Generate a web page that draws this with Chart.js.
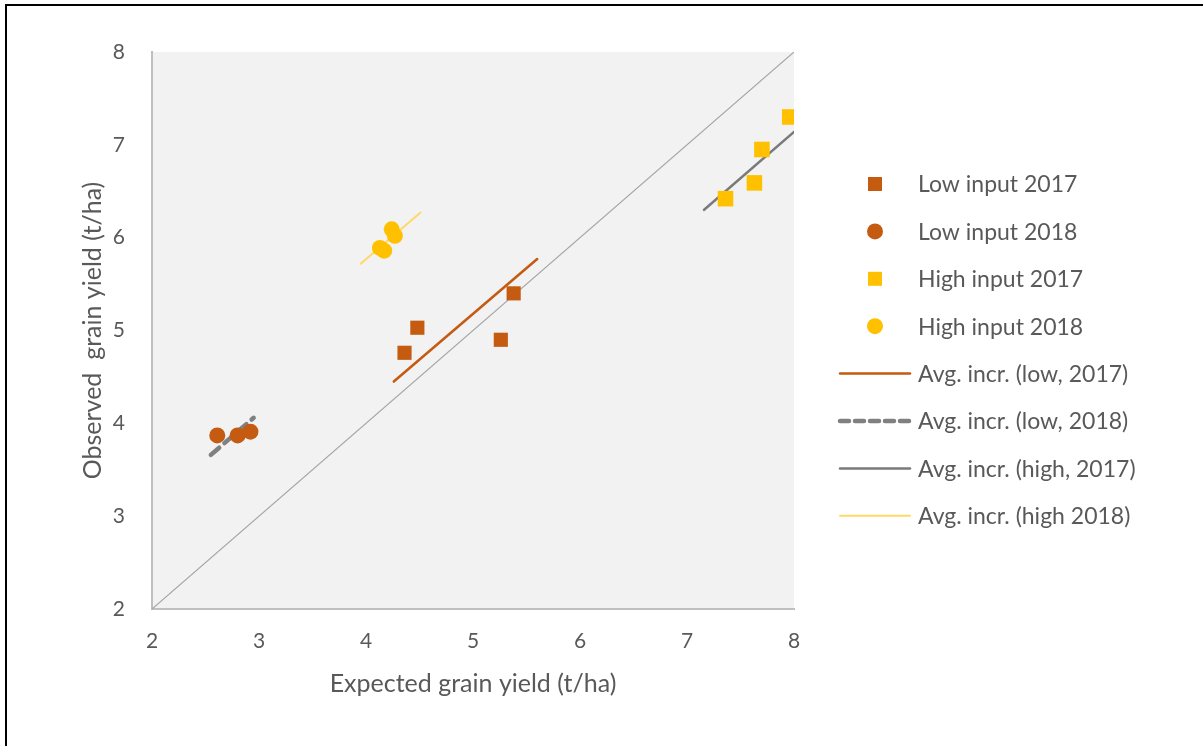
<!DOCTYPE html>
<html>
<head>
<meta charset="utf-8">
<script src="https://cdn.jsdelivr.net/npm/chart.js@4/dist/chart.umd.min.js"></script>
<style>
  html, body { margin: 0; padding: 0; background: #fff; }
  #wrap { position: relative; width: 1203px; height: 746px; }
  #frame { position: absolute; left: 5px; top: 4px; width: 1198px; height: 742px;
           border-left: 2px solid #000; border-top: 2px solid #000; box-sizing: border-box; pointer-events: none; }
</style>
</head>
<body>
<div id="wrap">
  <canvas id="yieldChart" width="1203" height="746"></canvas>
  <div id="frame"></div>
</div>
<script>
// valori (t/ha)
var lowExp2017 = [4.36, 4.48, 5.26, 5.38];
var lowObs2017 = [4.76, 5.03, 4.90, 5.40];
var lowExp2018 = [2.61, 2.80, 2.92];
var lowObs2018 = [3.87, 3.87, 3.91];
var highExp2017 = [7.36, 7.63, 7.70, 7.96];
var highObs2017 = [6.42, 6.59, 6.95, 7.30];
var highExp2018 = [4.24, 4.27, 4.13, 4.17];
var highObs2018 = [6.09, 6.02, 5.89, 5.86];

// linee di incremento medio: [x inizio, x fine], [y inizio, y fine]
var trendLow2017X = [4.26, 5.60], trendLow2017Y = [4.45, 5.77];
var trendLow2018X = [2.55, 2.95], trendLow2018Y = [3.66, 4.06];
var trendHigh2017X = [7.16, 8.00], trendHigh2017Y = [6.30, 7.14];
var trendHigh2018X = [3.95, 4.51], trendHigh2018Y = [5.72, 6.27];
var oneToOne = [2, 8];

var axisTicks = [2, 3, 4, 5, 6, 7, 8];

var ORANGE = "#c55a11";
var YELLOW = "#ffc000";
var FONT = "Lato, 'Open Sans', sans-serif";
var TEXT = "#595959";

function pts(xs, ys) {
    return xs.map(function (x, i) { return { x: x, y: ys[i] }; });
}

var datasets = [
    { label: "Low input 2017", data: pts(lowExp2017, lowObs2017), showLine: false,
      pointStyle: "rect", pointRadius: 10, backgroundColor: ORANGE, borderColor: ORANGE, borderWidth: 0 },
    { label: "Low input 2018", data: pts(lowExp2018, lowObs2018), showLine: false,
      pointStyle: "circle", pointRadius: 8, backgroundColor: ORANGE, borderColor: ORANGE, borderWidth: 0 },
    { label: "High input 2017", data: pts(highExp2017, highObs2017), showLine: false,
      pointStyle: "rect", pointRadius: 11, backgroundColor: YELLOW, borderColor: YELLOW, borderWidth: 0 },
    { label: "High input 2018", data: pts(highExp2018, highObs2018), showLine: false,
      pointStyle: "circle", pointRadius: 8, backgroundColor: YELLOW, borderColor: YELLOW, borderWidth: 0 },
    { label: "Avg. incr. (low, 2017)", data: pts(trendLow2017X, trendLow2017Y), showLine: true,
      pointRadius: 0, borderColor: ORANGE, borderWidth: 2.5, borderCapStyle: "round" },
    { label: "Avg. incr. (low, 2018)", data: pts(trendLow2018X, trendLow2018Y), showLine: true,
      pointRadius: 0, borderColor: "#808080", borderWidth: 4.5, borderDash: [11, 7], borderCapStyle: "round" },
    { label: "Avg. incr. (high, 2017)", data: pts(trendHigh2017X, trendHigh2017Y), showLine: true,
      pointRadius: 0, borderColor: "#7a7a7a", borderWidth: 2.5, borderCapStyle: "round" },
    { label: "Avg. incr. (high 2018)", data: pts(trendHigh2018X, trendHigh2018Y), showLine: true,
      pointRadius: 0, borderColor: "#ffd966", borderWidth: 2, borderCapStyle: "round" },
    { label: "1:1", data: pts(oneToOne, oneToOne), showLine: true, legendHidden: true,
      pointRadius: 0, borderColor: "#a6a6a6", borderWidth: 1.2 }
];

// sfondo grigio dell'area del grafico
var plotBg = {
    id: "plotBg",
    beforeDraw: function (chart) {
        var a = chart.chartArea, c = chart.ctx;
        c.save();
        c.fillStyle = "#f2f2f2";
        c.fillRect(a.left, a.top, a.right - a.left, a.bottom - a.top);
        c.restore();
    }
};

// titoli degli assi e legenda disegnati a mano per rispettare le posizioni
var customLegend = {
    id: "customLegend",
    afterDraw: function (chart) {
        var c = chart.ctx;
        var a = chart.chartArea;
        c.save();
        c.fillStyle = TEXT;
        c.textBaseline = "middle";
        c.textAlign = "center";
        c.font = "25px " + FONT;
        c.fillText("Expected grain yield (t/ha)", (a.left + a.right) / 2, 684);
        c.save();
        c.translate(93, (a.top + a.bottom) / 2);
        c.rotate(-Math.PI / 2);
        c.fillText("Observed  grain yield (t/ha)", 0, 0);
        c.restore();

        var y0 = 184, step = 47.4;
        c.font = "23px " + FONT;
        c.textAlign = "left";
        var row = 0;
        chart.data.datasets.forEach(function (ds) {
            if (ds.legendHidden) return;
            var y = y0 + row * step;
            if (ds.showLine) {
                c.save();
                c.strokeStyle = ds.borderColor;
                c.lineWidth = ds.borderWidth;
                c.lineCap = "round";
                if (ds.borderDash) c.setLineDash([9, 6]);
                c.beginPath();
                c.moveTo(840, y);
                c.lineTo(910, y);
                c.stroke();
                c.restore();
            } else {
                c.save();
                c.fillStyle = ds.backgroundColor;
                if (ds.pointStyle === "rect") {
                    c.fillRect(868, y - 7, 14, 14);
                } else {
                    c.beginPath();
                    c.arc(875, y, 8, 0, Math.PI * 2);
                    c.fill();
                }
                c.restore();
            }
            c.fillText(ds.label, 918, y + 1);
            row++;
        });
        c.restore();
    }
};

var chart = new Chart(document.getElementById("yieldChart"), {
    type: "scatter",
    data: { datasets: datasets },
    options: {
        responsive: false,
        animation: false,
        layout: { padding: { left: 0, top: 52, right: 409, bottom: 0 } },
        plugins: { legend: { display: false }, tooltip: { enabled: false } },
        scales: {
            x: {
                type: "linear", min: 2, max: 8,
                afterBuildTicks: function (s) { s.ticks = axisTicks.map(function (v) { return { value: v }; }); },
                afterFit: function (s) { s.height = 137; },
                grid: { display: false, drawTicks: false },
                border: { color: "#bfbfbf", width: 2 },
                ticks: { color: TEXT, font: { family: FONT, size: 21 }, padding: 20 }
            },
            y: {
                type: "linear", min: 2, max: 8,
                afterBuildTicks: function (s) { s.ticks = axisTicks.map(function (v) { return { value: v }; }); },
                afterFit: function (s) { s.width = 152; },
                grid: { display: false, drawTicks: false },
                border: { color: "#bfbfbf", width: 2 },
                ticks: { color: TEXT, font: { family: FONT, size: 21 }, padding: 27 }
            }
        }
    },
    plugins: [plotBg, customLegend]
});
</script>
</body>
</html>
